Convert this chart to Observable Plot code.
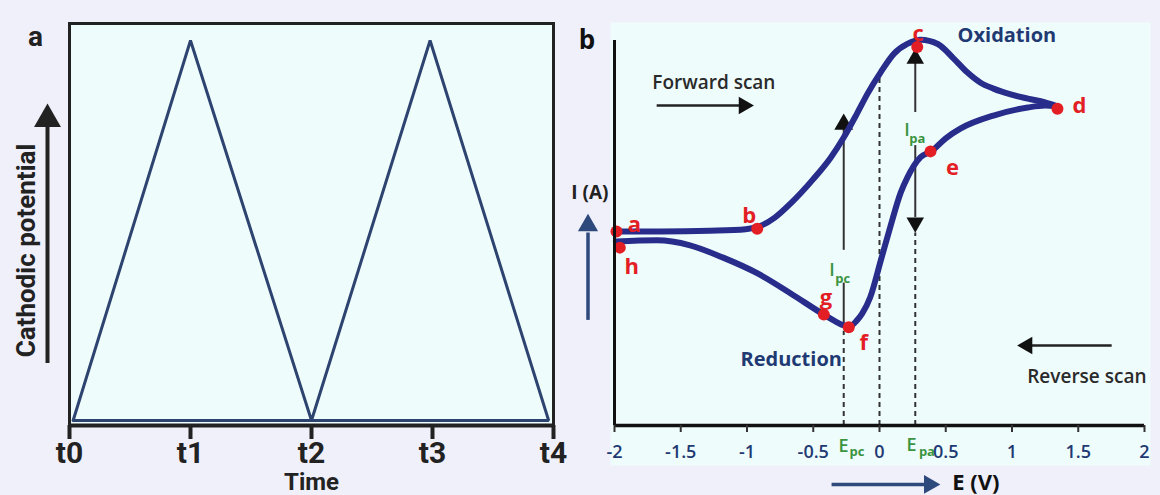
<!DOCTYPE html>
<html><head><meta charset="utf-8">
<script src="https://cdn.jsdelivr.net/npm/d3@7"></script>
<script src="https://cdn.jsdelivr.net/npm/@observablehq/plot@0.6"></script>
<style>
html,body{margin:0;padding:0;background:#f0f0fa;}
#wrap{position:relative;width:1160px;height:495px;background:#f0f0fa;overflow:hidden;}
#pa,#pb{position:absolute;top:0;}
#pa{left:0;} #pb{left:580px;}
svg{overflow:visible}
</style></head><body><div id="wrap"><div id="pa"></div><div id="pb"></div></div>
<script>
// ---------- Panel a data ----------
const timeTicks = [0, 1, 2, 3, 4];
const timeLabels = ["t0", "t1", "t2", "t3", "t4"];
const waveT = [0.03, 1.0, 2.0, 2.98, 3.96, 0.03];
const waveV = [0, 1, 0, 1, 0, 0];

// ---------- Panel b data ----------
const eTicks = [-2, -1.5, -1, -0.5, 0, 0.5, 1, 1.5, 2];
const forwardE = [-2.0, -1.65, -1.28, -1.01, -0.9, -0.79, -0.67, -0.5, -0.37, -0.27, -0.17, -0.09, 0.01, 0.11, 0.21, 0.31, 0.44, 0.56, 0.66, 0.76, 0.86, 0.99, 1.12, 1.25, 1.34];
const forwardI = [50.4, 50.4, 50.6, 51.0, 51.8, 54.0, 57.7, 64.0, 69.5, 74.8, 81.0, 86.2, 91.8, 96.6, 99.1, 100.2, 99.1, 95.3, 91.8, 89.1, 87.5, 86.0, 84.9, 83.9, 82.9];
const reverseE = [1.34, 1.25, 1.12, 0.86, 0.61, 0.5, 0.39, 0.31, 0.26, 0.21, 0.16, 0.08, 0.01, -0.07, -0.13, -0.17, -0.23, -0.27, -0.33, -0.42, -0.67, -0.92, -1.18, -1.43, -1.68, -1.99];
const reverseI = [82.9, 83.1, 82.6, 80.5, 77.1, 74.6, 71.2, 69.7, 67.5, 64.4, 60.5, 51.4, 42.9, 33.3, 29.1, 27.3, 25.7, 26.0, 27.0, 28.8, 34.3, 39.5, 43.6, 46.8, 48.1, 47.8];
const pointLabels = ["a", "b", "c", "d", "e", "f", "g", "h"];
const pointE = [-1.985, -0.923, 0.285, 1.343, 0.385, -0.232, -0.42, -1.96];
const pointI = [50.4, 51.1, 98.3, 82.3, 71.2, 25.5, 28.8, 46.2];
const peakNames = ["pc", "zero", "pa"];
const peakE = [-0.27, 0, 0.27];
const peakLineTop = [24.5, 91, 50];

// ---------- Panel a ----------
const tA = timeTicks.map((t, i) => ({t, label: timeLabels[i]}));
const wave = waveT.map((t, i) => ({t, v: waveV[i]}));
const yA = [-5 / 380, 1 + 17 / 380];
const dark = "#222";

const plotA = Plot.plot({
  width: 580, height: 495,
  marginLeft: 69, marginRight: 27, marginTop: 23, marginBottom: 70,
  x: {domain: [0, 4], axis: null},
  y: {domain: yA, axis: null},
  style: {background: "transparent", fontFamily: "Roboto, sans-serif", overflow: "visible"},
  marks: [
    Plot.frame({fill: "#effcfc", stroke: dark, strokeWidth: 3}),
    Plot.line(wave, {x: "t", y: "v", stroke: "#2e4470", strokeWidth: 3, strokeLinejoin: "miter"}),
    Plot.ruleY([yA[0]], {stroke: dark, strokeWidth: 4}),
    Plot.axisX({ticks: timeTicks, tickSize: 14, tickFormat: () => "", stroke: dark, strokeWidth: 4, label: null}),
    Plot.text(tA, {x: "t", text: "label", frameAnchor: "bottom", dy: 28, fontSize: 30, fontWeight: 700, fill: dark, lineAnchor: "middle"}),
    Plot.text(["Time"], {frameAnchor: "bottom", dy: 57, fontSize: 24, fontWeight: 700, fill: dark, lineAnchor: "middle"}),
    Plot.text(["Cathodic potential"], {frameAnchor: "left", rotate: -90, dx: -43, dy: 26, fontSize: 26, fontWeight: 700, fill: dark, lineAnchor: "middle", textAnchor: "middle"}),
    Plot.ruleX([timeTicks[0]], {y1: 0.15, y2: 0.78, dx: -22, stroke: dark, strokeWidth: 4}),
    Plot.dot([timeTicks[0]], {x: d => d, y: 0.793, dx: -22, symbol: "triangle", r: 10, fill: dark, stroke: null}),
    Plot.text(["a"], {frameAnchor: "top-left", dx: -34, dy: 14, fontSize: 28, fontWeight: 700, fill: dark, textAnchor: "middle", lineAnchor: "middle"})
  ]
});
document.getElementById("pa").appendChild(plotA);

// ---------- Panel b ----------
const forward = forwardE.map((E, i) => ({E, I: forwardI[i]}));
const reverse = reverseE.map((E, i) => ({E, I: reverseI[i]}));
const pts = pointLabels.map((label, i) => ({label, E: pointE[i], I: pointI[i]}));
const peaks = peakNames.map((name, i) => ({name, E: peakE[i], top: peakLineTop[i]}));
const navy = "#282d8c";
const red = "#e31e24";
const green = "#3a9440";
const blueText = "#1f3a73";
const slate = "#2e4a7d";
const labelOffset = {a: [18, -7], b: [-8, -13], c: [1, -13], d: [22, -3], e: [22, 17], f: [15, 16], g: [2, -17], h: [12, 19]};
const Epc = peakE[0], Epa = peakE[2];

const arrowShafts = [
  {x: Epc, y1: 26, y2: 37}, {x: Epc, y1: 45.5, y2: 77},
  {x: Epa, y1: 95.5, y2: 81.3}, {x: Epa, y1: 72.7, y2: 54}
];

const plotB = Plot.plot({
  width: 580, height: 495,
  marginLeft: 34, marginRight: 16, marginTop: 40, marginBottom: 70,
  x: {domain: [-2, 2], axis: null},
  y: {domain: [0, 100], axis: null},
  style: {background: "transparent", fontFamily: "'Open Sans', sans-serif", overflow: "visible"},
  marks: [
    Plot.frame({fill: "#effcfc", insetLeft: -4, insetRight: -6, insetTop: -18, insetBottom: -40}),
    Plot.ruleX(peaks, {x: "E", y1: 0, y2: "top", stroke: "#333", strokeWidth: 2, strokeDasharray: "5,4"}),
    Plot.ruleX(arrowShafts, {x: "x", y1: "y1", y2: "y2", stroke: "#333", strokeWidth: 2}),
    Plot.dot([Epc], {x: d => d, y: 78.2, symbol: "triangle", r: 7, fill: "#111", stroke: null}),
    Plot.dot([Epa], {x: d => d, y: 95.3, symbol: "triangle", r: 6.5, fill: "#111", stroke: null}),
    Plot.dot([Epa], {x: d => d, y: 52.7, symbol: "triangle", rotate: 180, r: 6.5, fill: "#111", stroke: null}),
    Plot.line(forward, {x: "E", y: "I", curve: "monotone-x", stroke: navy, strokeWidth: 6}),
    Plot.line(reverse, {x: "E", y: "I", sort: "E", curve: "monotone-x", stroke: navy, strokeWidth: 6}),
    Plot.dot(pts, {x: "E", y: "I", r: 6, fill: red, stroke: null}),
    ...pts.map(p => Plot.text([p], {x: "E", y: "I", text: "label", dx: labelOffset[p.label][0], dy: labelOffset[p.label][1], fontSize: 22, fontWeight: 700, fill: red})),
    Plot.ruleX([eTicks[0]], {stroke: "#111", strokeWidth: 3}),
    Plot.ruleY([0], {stroke: "#111", strokeWidth: 3.5}),
    Plot.axisX({ticks: eTicks, tickSize: 7, tickFormat: () => "", stroke: "#333", strokeWidth: 2, label: null}),
    Plot.text(eTicks, {x: d => d, text: d => String(d), frameAnchor: "bottom", dy: 27, fontSize: 18, fontWeight: 600, fill: blueText, lineAnchor: "middle"}),
    // green peak labels
    Plot.text(["E"], {x: Epc - 0.002, y: -5.45, fontSize: 18, fontWeight: 600, fill: green}),
    Plot.text(["pc"], {x: Epc + 0.1, y: -6.9, fontSize: 13, fontWeight: 700, fill: green}),
    Plot.text(["E"], {x: Epa - 0.028, y: -5.2, fontSize: 18, fontWeight: 600, fill: green}),
    Plot.text(["pa"], {x: Epa + 0.088, y: -6.9, fontSize: 13, fontWeight: 700, fill: green}),
    Plot.text(["I"], {x: Epc - 0.088, y: 40.3, fontSize: 18, fontWeight: 600, fill: green}),
    Plot.text(["pc"], {x: Epc - 0.007, y: 38.0, fontSize: 13, fontWeight: 700, fill: green}),
    Plot.text(["I"], {x: Epa - 0.062, y: 76.6, fontSize: 18, fontWeight: 600, fill: green}),
    Plot.text(["pa"], {x: Epa + 0.015, y: 74.4, fontSize: 13, fontWeight: 700, fill: green}),
    // annotations
    Plot.text(["Oxidation"], {x: 0.589, y: 101.3, textAnchor: "start", fontSize: 20, fontWeight: 700, fill: blueText}),
    Plot.text(["Reduction"], {x: -1.049, y: 17.1, textAnchor: "start", fontSize: 20, fontWeight: 700, fill: blueText}),
    Plot.text(["Forward scan"], {x: -1.715, y: 89.1, textAnchor: "start", fontSize: 19, fontWeight: 600, fill: "#2a2a2a"}),
    Plot.text(["Reverse scan"], {x: 1.115, y: 12.5, textAnchor: "start", fontSize: 19, fontWeight: 600, fill: "#2a2a2a"}),
    Plot.ruleY([83.1], {x1: -1.678, x2: -1.03, stroke: "#222", strokeWidth: 2.5}),
    Plot.dot([83.1], {x: -1.024, y: d => d, symbol: "triangle", rotate: 90, r: 6.5, fill: "#111", stroke: null}),
    Plot.ruleY([20.8], {x1: 1.756, x2: 1.12, stroke: "#222", strokeWidth: 2.5}),
    Plot.dot([20.8], {x: 1.115, y: d => d, symbol: "triangle", rotate: -90, r: 6.5, fill: "#111", stroke: null}),
    Plot.text(["I (A)"], {x: -2.045, y: 60.5, textAnchor: "end", fontSize: 19, fontWeight: 700, fill: "#222"}),
    Plot.ruleX([-2.2], {y1: 27.3, y2: 50, stroke: slate, strokeWidth: 3.5}),
    Plot.dot([-2.2], {x: d => d, y: 52, symbol: "triangle", r: 7.5, fill: slate, stroke: null}),
    Plot.text(["E (V)"], {x: 0.549, y: -14.8, textAnchor: "start", fontSize: 22, fontWeight: 700, fill: "#111"}),
    Plot.ruleY([-15.3], {x1: -0.358, x2: 0.37, stroke: slate, strokeWidth: 3.5}),
    Plot.dot([-15.3], {x: 0.377, y: d => d, symbol: "triangle", rotate: 90, r: 7, fill: slate, stroke: null}),
    Plot.text(["b"], {x: -2.208, y: 100, fontSize: 26, fontWeight: 700, fill: "#111"})
  ]
});
document.getElementById("pb").appendChild(plotB);
</script>
</body></html>
